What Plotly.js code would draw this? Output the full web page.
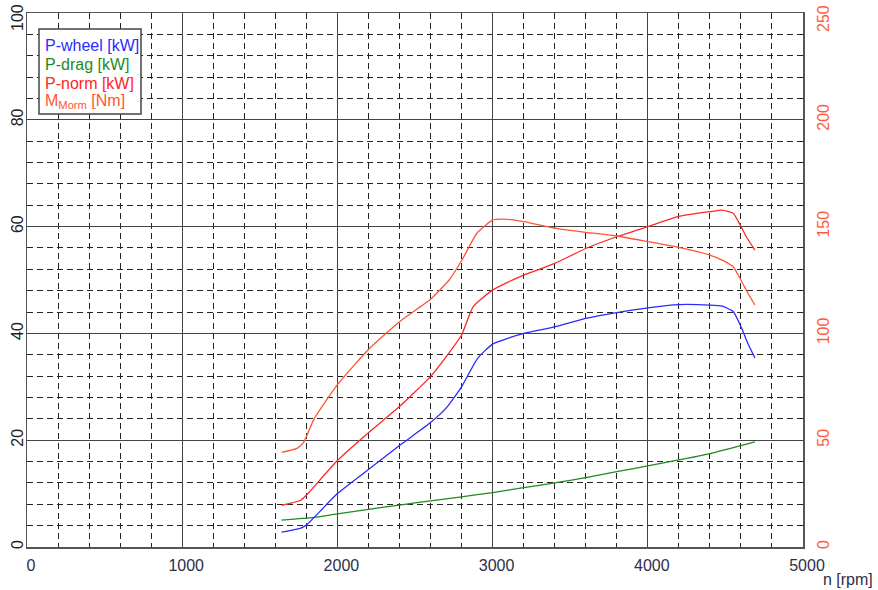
<!DOCTYPE html>
<html>
<head>
<meta charset="utf-8">
<script src="https://cdn.plot.ly/plotly-3.0.1.min.js"></script>
<style>html,body{margin:0;padding:0;background:#fff;}#chart{width:878px;height:590px;}</style>
</head>
<body>
<div id="chart"></div>
<script>
// P-wheel [kW]
const wheelRpm = [1640, 1760, 1800, 2000, 2200, 2400, 2600, 2700, 2800, 2900, 3000, 3200, 3400, 3600, 3800, 4000, 4200, 4400, 4480, 4550, 4600, 4645, 4690];
const wheelKW  = [2.8, 3.5, 4.1, 10.0, 14.5, 19.0, 23.3, 26.0, 30.0, 35.2, 38.0, 40.0, 41.2, 42.8, 43.9, 44.8, 45.4, 45.3, 45.1, 44.1, 41.3, 38.1, 35.4];
// P-drag [kW]
const dragRpm = [1640, 1850, 2000, 2200, 2400, 2600, 2800, 3000, 3200, 3400, 3600, 3800, 4000, 4200, 4400, 4690];
const dragKW  = [5.05, 5.55, 6.2, 7.05, 7.85, 8.65, 9.4, 10.2, 11.1, 12.0, 13.0, 14.1, 15.2, 16.3, 17.5, 19.7];
// P-norm [kW]
const normRpm = [1640, 1760, 1800, 2000, 2200, 2400, 2600, 2700, 2800, 2875, 3000, 3200, 3400, 3600, 3800, 4000, 4200, 4400, 4480, 4550, 4590, 4635, 4690];
const normKW  = [7.8, 8.7, 9.7, 16.2, 21.4, 26.3, 31.9, 35.6, 39.7, 45.0, 48.1, 50.9, 53.1, 55.9, 58.1, 60.0, 61.9, 62.8, 63.1, 62.5, 60.6, 58.1, 55.6];
// M_Morm [Nm]
const torqueRpm = [1640, 1740, 1780, 1850, 2000, 2200, 2400, 2600, 2720, 2800, 2900, 3000, 3070, 3200, 3400, 3600, 3800, 4000, 4200, 4400, 4480, 4550, 4600, 4645, 4690];
const torqueNm  = [44.3, 46.2, 48.7, 60, 76, 92.5, 105.5, 116, 125, 134, 147, 153, 153.5, 152.3, 149.3, 147.3, 145.6, 143, 140.3, 136.7, 134.3, 131.2, 125, 118.8, 113.3];

// tick labels
const leftTicks = [0, 20, 40, 60, 80];
const leftTopTick = '100';
const rightTicks = [0, 50, 100, 150, 200];
const rightTopTick = '250';

const legendLabels = ['P-wheel [kW]', 'P-drag [kW]', 'P-norm [kW]', 'M<sub>Morm</sub> [Nm]'];
const colBlue = '#2b2bff', colGreen = '#1f8a1f', colRed = '#ff2626', colOrange = '#ff5533';
const seriesColors = [colBlue, colGreen, colRed, colOrange];
const rightColor = '#ff5a3c';

const lineOpt = (c) => ({color: c, width: 1.3, shape: 'spline', smoothing: 0.5});
const traces = [
  {x: dragRpm, y: dragKW, mode: 'lines', line: lineOpt(colGreen), yaxis: 'y'},
  {x: wheelRpm, y: wheelKW, mode: 'lines', line: lineOpt(colBlue), yaxis: 'y'},
  {x: normRpm, y: normKW, mode: 'lines', line: lineOpt(colRed), yaxis: 'y'},
  {x: torqueRpm, y: torqueNm, mode: 'lines', line: lineOpt(colOrange), yaxis: 'y2'}
];

const L = 27, R = 803, T = 13, B = 547, W = 878, H = 590;
const px2x = (p) => (p - L) / (R - L);
const px2y = (p) => 1 - (p - T) / (B - T);

const legendRowsY = [45, 64, 83, 102];
const legendAnnots = legendLabels.map((t, i) => ({
  xref: 'paper', yref: 'paper', x: px2x(43), y: px2y(legendRowsY[i]), xanchor: 'left', yanchor: 'middle',
  text: t, showarrow: false, align: 'left', font: {size: 16, color: seriesColors[i]}
}));

const layout = {
  width: W, height: H,
  margin: {l: L, r: W - R, t: T, b: H - B, pad: 0},
  paper_bgcolor: '#fff', plot_bgcolor: '#fff',
  showlegend: false,
  font: {family: 'Liberation Sans, Arial, sans-serif', size: 16, color: '#222'},
  xaxis: {
    range: [0, 5000], dtick: 1000, tick0: 0, ticks: '', zeroline: false,
    showgrid: true, gridcolor: '#444', gridwidth: 1,
    minor: {dtick: 200, tick0: 0, showgrid: true, gridcolor: '#222', gridwidth: 1, griddash: '6px,4px', ticks: ''},
    showline: true, linecolor: '#555', linewidth: 1.5, mirror: true,
    tickfont: {size: 16, color: '#2e2e4a'}, ticklabelshift: 4, ticklabelstandoff: 3,
    ticklabeloverflow: 'allow'
  },
  yaxis: {
    range: [0, 100], tickmode: 'array', tickvals: leftTicks, ticks: '', zeroline: false,
    showgrid: true, gridcolor: '#444', gridwidth: 1,
    minor: {dtick: 4, tick0: 0, showgrid: true, gridcolor: '#222', gridwidth: 1, griddash: '6px,4px', ticks: ''},
    showline: true, linecolor: '#555', linewidth: 1.5, mirror: true,
    tickangle: -90, tickfont: {size: 16, color: '#222'}, ticklabelstandoff: -4,
    ticklabeloverflow: 'allow'
  },
  yaxis2: {
    range: [0, 250], tickmode: 'array', tickvals: rightTicks, ticks: '', zeroline: false,
    overlaying: 'y', side: 'right', showgrid: false, showline: false,
    tickangle: -90, tickfont: {size: 16, color: rightColor}, ticklabelstandoff: 9,
    ticklabeloverflow: 'allow'
  },
  shapes: [
    {type: 'rect', xref: 'paper', yref: 'paper', x0: px2x(39), x1: px2x(141), y0: px2y(114), y1: px2y(29),
     line: {color: '#444', width: 1.5}, fillcolor: '#fff', layer: 'above'},
    // horizontal grid lines at top value (major) drawn by frame already
  ],
  annotations: legendAnnots.concat([
    {xref: 'paper', yref: 'paper', x: px2x(848), y: px2y(579), xanchor: 'center', yanchor: 'middle',
     text: 'n [rpm]', showarrow: false, font: {size: 16, color: '#2e2e4a'}},
    {xref: 'paper', yref: 'paper', x: px2x(17), y: px2y(18), xanchor: 'center', yanchor: 'middle',
     text: leftTopTick, textangle: -90, showarrow: false, font: {size: 16, color: '#222'}},
    {xref: 'paper', yref: 'paper', x: px2x(823), y: px2y(18), xanchor: 'center', yanchor: 'middle',
     text: rightTopTick, textangle: -90, showarrow: false, font: {size: 16, color: rightColor}}
  ])
};

Plotly.newPlot('chart', traces, layout, {staticPlot: true, displayModeBar: false});
</script>
</body>
</html>
